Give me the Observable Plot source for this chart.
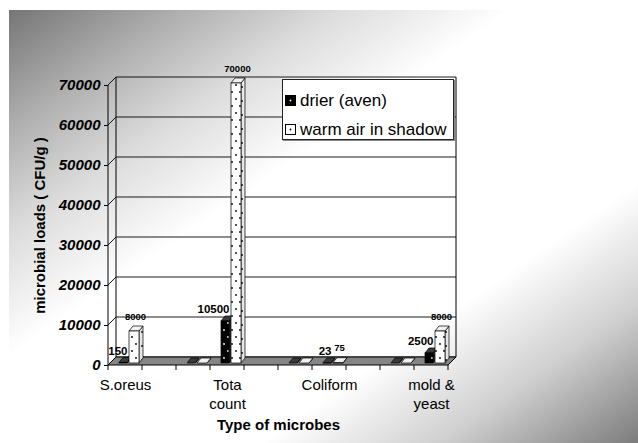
<!DOCTYPE html>
<html>
<head>
<meta charset="utf-8">
<script src="https://cdn.jsdelivr.net/npm/d3@7"></script>
<script src="https://cdn.jsdelivr.net/npm/@observablehq/plot@0.6"></script>
<style>
  body { margin: 0; background: #fff; }
  #wrap { position: relative; width: 638px; height: 443px; background: #fff; font-family: "Liberation Sans", Arial, sans-serif; overflow: hidden; }
  #bg { position: absolute; left: 9px; top: 10px; width: 629px; height: 433px;
        background: linear-gradient(to bottom right, #767676 0%, #b0b0b0 14%, #dcdcdc 26%, #ffffff 40%, #ffffff 70%, #d0d0d0 84%, #7c7c7c 100%); }
  #chart { position: absolute; left: 0; top: 0; }
  #legend { position: absolute; left: 282px; top: 79px; width: 172px; height: 61px; background: #fff;
            border: 1px solid #222; box-shadow: 1px 1px 0 #888; box-sizing: border-box; padding-top: 6px; }
  .item { display: flex; align-items: center; height: 29px; font-size: 17px; color: #000; white-space: nowrap; }
  .item svg { margin: 0 4px 0 2px; }
</style>
</head>
<body>
<div id="wrap">
  <div id="bg"></div>
  <div id="chart"></div>
  <div id="legend"></div>
</div>
<script>
// ---- data ----
const categories = ["S.oreus", "cat 2", "cat 3", "Tota count", "cat 5", "cat 6", "Coliform", "cat 8", "cat 9", "mold & yeast"];
const tickLabels = ["S.oreus", "", "", "Tota\ncount", "", "", "Coliform", "", "", "mold &\nyeast"];
const seriesNames = ["drier (aven)", "warm air in shadow"];
const drier = [150, null, 0, 10500, null, 0, 23, null, 0, 2500];
const warm = [8000, null, 0, 70000, null, 0, 75, null, 0, 8000];
const drierLabels = ["150", "", "", "10500", "", "", "23", "", "", "2500"];
const warmLabels = ["8000", "", "", "70000", "", "", "75", "", "", "8000"];
const yTicks = [0, 10000, 20000, 30000, 40000, 50000, 60000, 70000];
const yTitle = "microbial loads ( CFU/g )";
const xTitle = "Type of microbes";

const rows = categories.flatMap((c, i) => [
  {cat: c, series: seriesNames[0], value: drier[i], label: drierLabels[i]},
  {cat: c, series: seriesNames[1], value: warm[i], label: warmLabels[i]}
]).filter(d => d.value != null);

// ---- styling / geometry ----
const FONT = "'Liberation Sans', Arial, sans-serif";
const geom = {
  [seriesNames[0]]: {l: 9, r: 17, side: "#2a2a2a", top: "#3a3a3a"},
  [seriesNames[1]]: {l: 19, r: 5, side: "url(#pSide)", top: "#f2f2f2"}
};
const OFF = 2;          // bar offset into floor depth
const BDX = 4, BDY = 5; // bar depth
const WD = 8;           // wall depth

function walls(index, scales, values, dims) {
  const {y} = scales;
  const L = dims.marginLeft, R = dims.width - dims.marginRight;
  const y0 = y(0), yM = y(yTicks[yTicks.length - 1]);
  const g = d3.create("svg:g").attr("fill", "none").attr("stroke", "#000");
  for (const t of yTicks) {
    g.append("path").attr("stroke-width", 0.9)
      .attr("d", `M${L},${y(t)}L${L + WD},${y(t) - WD}L${R + WD},${y(t) - WD}`);
  }
  g.append("line").attr("x1", L + WD).attr("x2", L + WD).attr("y1", yM - WD).attr("y2", y0 - WD);
  g.append("line").attr("x1", R + WD).attr("x2", R + WD).attr("y1", yM - WD).attr("y2", y0 - WD);
  g.append("path").attr("fill", "#858585").attr("stroke-width", 1)
    .attr("d", `M${L},${y0}L${R},${y0}L${R + WD},${y0 - WD}L${L + WD},${y0 - WD}Z`);
  g.append("line").attr("x1", L).attr("x2", L).attr("y1", y0).attr("y2", yM);
  const x = scales.x;
  const bw = x.bandwidth ? x.bandwidth() : (R - L) / categories.length;
  const bounds = categories.map(c => x(c)).concat([x(categories[categories.length - 1]) + bw]);
  for (const b of bounds) g.append("line").attr("x1", b).attr("x2", b).attr("y1", y0).attr("y2", y0 + 5);
  return g.node();
}

function bars3d(index, scales, values, dims) {
  const {x, y} = scales;
  const bw = x.bandwidth ? x.bandwidth() : 34;
  const g = d3.create("svg:g").attr("stroke", "#000").attr("stroke-width", 0.7);
  for (const d of rows) {
    const gm = geom[d.series];
    const x0 = x(d.cat) + gm.l + OFF, x1 = x(d.cat) + bw - gm.r + OFF;
    const yt = y(d.value) - OFF, yb = y(0) - OFF;
    g.append("path").attr("fill", gm.side)
      .attr("d", `M${x1},${yt}L${x1 + BDX},${yt - BDY}L${x1 + BDX},${yb - BDY}L${x1},${yb}Z`);
    g.append("path").attr("fill", gm.top)
      .attr("d", `M${x0},${yt}L${x0 + BDX},${yt - BDY}L${x1 + BDX},${yt - BDY}L${x1},${yt}Z`);
  }
  return g.node();
}

const barOpts = s => ({
  x: "cat", y: "value",
  insetLeft: geom[s].l, insetRight: geom[s].r,
  dx: OFF, dy: -OFF,
  fill: s === seriesNames[0] ? "#000" : "#fff",
  stroke: "#000", strokeWidth: 0.7,
  className: s === seriesNames[0] ? "bar-dark" : "bar-white"
});

const plot = Plot.plot({
  width: 638,
  height: 443,
  marginLeft: 108,
  marginRight: 190,
  marginTop: 85,
  marginBottom: 78,
  style: {background: "transparent", overflow: "visible", fontFamily: FONT},
  x: {domain: categories, padding: 0, label: null},
  y: {domain: [0, 70000], label: null},
  marks: [
    walls,
    bars3d,
    Plot.barY(rows.filter(d => d.series === seriesNames[0]), barOpts(seriesNames[0])),
    Plot.barY(rows.filter(d => d.series === seriesNames[1]), barOpts(seriesNames[1])),
    Plot.text(rows.filter(d => d.series === seriesNames[0] && d.label), {
      x: "cat", y: "value", text: "label", textAnchor: "end", dx: 2, dy: -14,
      fontSize: 11.5, fontWeight: "bold", fill: "#000"
    }),
    Plot.text(rows.filter(d => d.series === seriesNames[1] && d.label), {
      x: "cat", y: "value", text: "label", dx: 10, dy: -17,
      fontSize: 9.5, fontWeight: "bold", fill: "#000"
    }),
    Plot.axisY({
      ticks: yTicks, tickFormat: d => String(d), tickSize: 4, tickPadding: 4,
      fontSize: 15, fontWeight: "bold", fontStyle: "italic", label: null, stroke: "#000",
      className: "yax"
    }),
    Plot.axisX({
      tickSize: 0, tickPadding: 11, fontSize: 15, lineHeight: 1.27, label: null,
      tickFormat: d => tickLabels[categories.indexOf(d)]
    }),
    Plot.text([yTitle], {frameAnchor: "left", textAnchor: "middle", lineAnchor: "middle", rotate: -90, dx: -68,
      fontSize: 15, fontWeight: "bold", fill: "#000"}),
    Plot.text([xTitle], {frameAnchor: "bottom", textAnchor: "middle", lineAnchor: "middle", dy: 60,
      fontSize: 15, fontWeight: "bold", fill: "#000"})
  ]
});

const svgSel = d3.select(plot.tagName.toLowerCase() === "svg" ? plot : plot.querySelector("svg"));
const defs = svgSel.insert("defs", ":first-child");
function pattern(id, bg, dot) {
  const p = defs.append("pattern").attr("id", id).attr("patternUnits", "userSpaceOnUse")
    .attr("width", 8).attr("height", 14);
  p.append("rect").attr("width", 8).attr("height", 14).attr("fill", bg);
  p.append("circle").attr("cx", 2).attr("cy", 3).attr("r", 0.9).attr("fill", dot);
  p.append("circle").attr("cx", 6).attr("cy", 10).attr("r", 0.9).attr("fill", dot);
}
pattern("pDark", "#000", "#fff");
pattern("pWhite", "#fff", "#000");
pattern("pSide", "#e6e6e6", "#000");
svgSel.selectAll(".bar-dark rect").attr("fill", "url(#pDark)");
svgSel.selectAll(".bar-white rect").attr("fill", "url(#pWhite)");
svgSel.selectAll(".yax text, g.yax, [aria-label='y-axis tick label'] text, g[aria-label='y-axis tick label']")
  .attr("font-style", "italic");

document.getElementById("chart").appendChild(plot);

const legend = d3.select("#legend");
seriesNames.forEach((s, i) => {
  const it = legend.append("div").attr("class", "item");
  const sw = it.append("svg").attr("width", 11).attr("height", 11);
  sw.append("rect").attr("x", 0.5).attr("y", 0.5).attr("width", 10).attr("height", 10)
    .attr("fill", i === 0 ? "#000" : "#fff").attr("stroke", "#000");
  sw.append("circle").attr("cx", 5.5).attr("cy", 5.5).attr("r", 0.9).attr("fill", i === 0 ? "#fff" : "#000");
  it.append("span").text(s);
});
</script>
</body>
</html>
